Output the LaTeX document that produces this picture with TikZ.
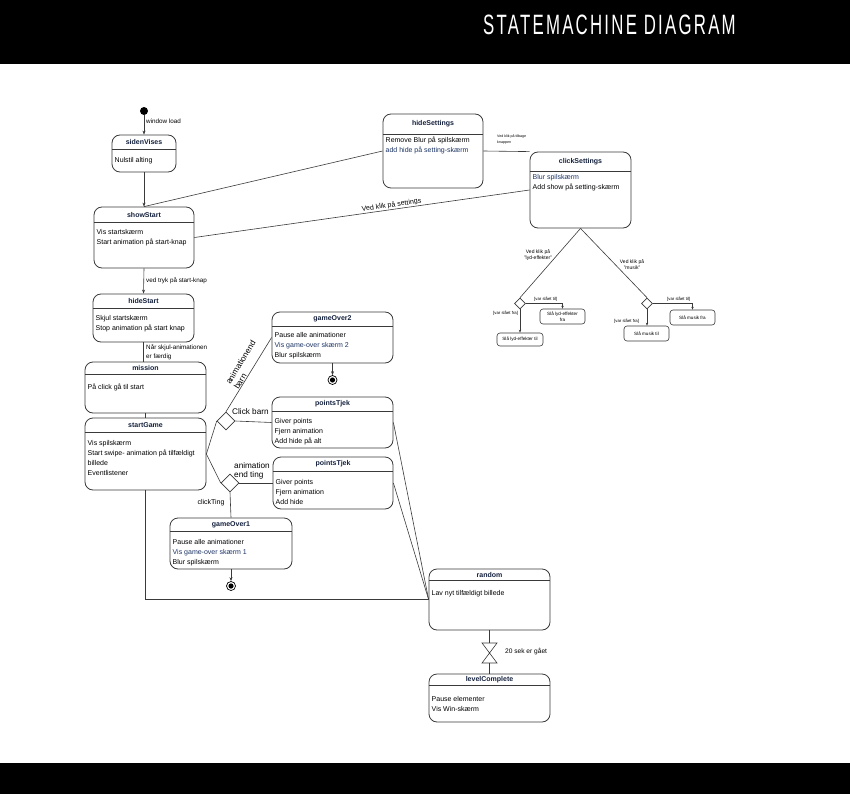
\documentclass[tikz,border=0pt]{standalone}
\usepackage{fontspec}
\setmainfont{Liberation Sans}
\newfontfamily\bannerfont[FakeStretch=0.6,LetterSpace=8]{Liberation Sans}
\usetikzlibrary{shapes.geometric,arrows.meta}
\definecolor{edgegray}{HTML}{3A3A3A}
\definecolor{titlenavy}{HTML}{14213D}
\definecolor{bodynavy}{HTML}{1C3464}

% state box: name, x, y, width, height, header height, first body line, title, body
\newcommand{\mkstate}[9]{%
  \node[stbox, minimum width=#4pt, minimum height=#5pt] (#1) at (#2+#4/2,#3+#5/2) {};
  \draw[divider] (#2,#3+#6) -- (#2+#4,#3+#6);
  \node[sttitle] (#1-title) at (#2+#4/2,#3+#6/2) {#8};
  \node[stbody] (#1-body) at (#2+2.5,#3+#7-3.7) {\rule{0pt}{6.2pt}#9};
}

\begin{document}
\begin{tikzpicture}[x=1pt,y=-1pt,
  stbox/.style={draw=edgegray,line width=0.8pt,rounded corners=8pt,fill=white,inner sep=0pt},
  divider/.style={draw=edgegray,line width=0.8pt},
  sttitle/.style={font=\fontsize{7}{8}\selectfont\bfseries,text=titlenavy,inner sep=0pt},
  stbody/.style={anchor=north west,align=left,inner sep=0pt,font=\fontsize{7}{9.8}\selectfont},
  optbox/.style={draw=edgegray,line width=0.6pt,rounded corners=3pt,fill=white,align=center,inner sep=0pt,font=\fontsize{4.6}{5.4}\selectfont},
  decision/.style={diamond,draw=edgegray,line width=0.6pt,fill=white,inner sep=0pt,minimum width=#1pt,minimum height=#1pt},
  link/.style={draw=edgegray,line width=0.6pt},
  arr/.style={link,-{Stealth[length=4pt,width=3pt]}},
  smallarr/.style={link,-{Stealth[length=3pt,width=2.4pt]}},
  lbl/.style={inner sep=0pt,font=\fontsize{6.3}{8.5}\selectfont},
  biglbl/.style={inner sep=0pt,font=\fontsize{8.2}{9.5}\selectfont},
  tinylbl/.style={inner sep=0pt,align=center,font=\fontsize{5}{6}\selectfont},
  optlbl/.style={inner sep=0pt,font=\fontsize{4.3}{5}\selectfont},
  initstate/.style={circle,fill=black,minimum size=8pt,inner sep=0pt},
  endstate/.style={circle,draw=black,line width=0.7pt,fill=white,minimum size=9pt,inner sep=0pt,
    path picture={\fill[black] (path picture bounding box.center) circle (2.6pt);}}]
\useasboundingbox (0,0) rectangle (850,794);
% banners
\fill[black] (0,0) rectangle (850,64);
\fill[black] (0,763) rectangle (850,794);
\node[anchor=west,text=white,inner sep=0pt,font={\bannerfont\fontsize{28}{30}\selectfont}] (banner) at (483,25) {STATEMACHINE DIAGRAM};

% states
\mkstate{sidenVises}{112}{135}{64}{37}{14}{25}{sidenVises}{Nulstil alting}
\mkstate{hideSettings}{383}{114}{100}{74}{20}{26}{hideSettings}{Remove Blur på spilskærm\\\textcolor{bodynavy}{add hide på setting-skærm}}
\mkstate{showStart}{94}{207}{100}{61}{15}{25}{showStart}{Vis startskærm\\Start animation på start-knap}
\mkstate{clickSettings}{530}{152}{101}{76}{19}{25}{clickSettings}{\textcolor{bodynavy}{Blur spilskærm}\\Add show på setting-skærm}
\mkstate{hideStart}{93}{294}{101}{48}{14}{24}{hideStart}{Skjul startskærm\\Stop animation på start knap}
\mkstate{mission}{85}{362}{121}{51}{12}{25}{mission}{På click gå til start}
\mkstate{startGame}{85}{418}{121}{72}{14}{25}{startGame}{Vis spilskærm\\Start swipe- animation på tilfældigt\\billede\\Eventlistener}
\mkstate{gameOver2}{272}{312}{121}{51}{14}{23}{gameOver2}{Pause alle animationer\\\textcolor{bodynavy}{Vis game-over skærm 2}\\Blur spilskærm}
\mkstate{pointsA}{272}{397}{121}{51}{14}{24}{pointsTjek}{Giver points\\Fjern animation\\Add hide på alt}
\mkstate{pointsB}{273}{457}{120}{52}{14}{25}{pointsTjek}{Giver points\\Fjern animation\\Add hide}
\mkstate{gameOver1}{170}{518}{122}{51}{13}{24}{gameOver1}{Pause alle animationer\\\textcolor{bodynavy}{Vis game-over skærm 1}\\Blur spilskærm}
\mkstate{random}{429}{569}{121}{61}{11}{24}{random}{Lav nyt tilfældigt billede}
\mkstate{levelComplete}{429}{674}{121}{48}{11}{25}{levelComplete}{Pause elementer\\Vis Win-skærm}

% start
\node[initstate] (init) at (144,111) {};
\draw[arr] (init) -- (sidenVises.north);
\node[lbl,anchor=west] (lblWindow) at (146,121) {window load};
\draw[arr] (sidenVises.south) -- (showStart.north);
\draw[link] (hideSettings.west) -- (showStart.north);
\draw[link] (showStart.east) -- node[sloped,above,pos=0.59,inner sep=0.6pt,font=\fontsize{7}{8}\selectfont] (lblSettings) {Ved klik på settings} (clickSettings.west);
\draw[link] (hideSettings.east) -- (clickSettings.north west);
\node[inner sep=0pt,anchor=north west,align=left,font=\fontsize{3.6}{5.6}\selectfont] (lblBack) at (497,134.5) {Ved klik på tilbage\\knappen};

% settings choices
\node[decision=11] (lydChoice) at (520,303.5) {};
\node[decision=11] (musikChoice) at (647,303.5) {};
\draw[link] (clickSettings.south) -- (lydChoice.north);
\draw[link] (clickSettings.south) -- (musikChoice.north);
\node[tinylbl] (lblLyd) at (538,255) {Ved klik på\\"lyd-effekter"};
\node[tinylbl] (lblMusik) at (632,265) {Ved klik på\\"musik"};
\node[optbox,minimum width=45pt,minimum height=15pt] (lydFra) at (562.5,316.5) {Slå lyd-effekter\\fra};
\node[optbox,minimum width=46pt,minimum height=13pt] (lydTil) at (520,339.5) {Slå lyd-effekter til};
\node[optbox,minimum width=45pt,minimum height=15pt] (musikFra) at (692.5,317.5) {Slå musik fra};
\node[optbox,minimum width=45pt,minimum height=15pt] (musikTil) at (646.5,333.5) {Slå musik til};
\draw[smallarr] (lydChoice.east) -| (lydFra.north);
\draw[smallarr] (lydChoice.south) -- (lydTil.north);
\draw[smallarr] (musikChoice.east) -| (musikFra.north);
\draw[smallarr] (musikChoice.south) -- (musikChoice.south |- musikTil.north);
\node[optlbl,anchor=base west] (lblLydTil) at (534,300) {[var slået til]};
\node[optlbl,anchor=base west] (lblLydFra) at (493,314) {[var slået fra]};
\node[optlbl,anchor=base west] (lblMusikTil) at (667,300) {[var slået til]};
\node[optlbl,anchor=base west] (lblMusikFra) at (614,322) {[var slået fra]};

% main flow
\draw[arr] (showStart.south) -- (hideStart.north);
\node[lbl,anchor=west] (lblTryk) at (146,281) {ved tryk på start-knap};
\draw[link] (hideStart.south) -- (hideStart.south |- mission.north);
\node[lbl,anchor=north west,align=left] (lblSkjul) at (146,344.5) {Når skjul-animationen\\er færdig};
\draw[link] (mission.south) -- (startGame.north);

% game choices
\node[decision=18] (barnChoice) at (226,421) {};
\node[decision=18] (tingChoice) at (230,483) {};
\draw[link] (startGame.east) -- (barnChoice.west);
\draw[link] (startGame.east) -- (tingChoice.west);
\draw[link] (barnChoice.east) -- (pointsA.west);
\draw[link] (barnChoice.north) -- node[biglbl,sloped,above,pos=0.57,align=left,inner sep=0.5pt] (lblAnimBarn) {animationend\\barn} (gameOver2.west);
\node[biglbl,anchor=west] (lblClickBarn) at (232,412) {Click barn};
\draw[link] (tingChoice.east) -- (pointsB.west);
\node[biglbl,anchor=north west,align=left] (lblAnimTing) at (234,462) {animation\\end ting};
\draw[link] (tingChoice.south) -- (gameOver1.north);
\node[lbl,font=\fontsize{7}{8}\selectfont] (lblClickTing) at (211,503) {clickTing};
\node[endstate] (gameOver2End) at (332.5,380) {};
\draw[arr] (gameOver2.south) -- (gameOver2End.north);
\node[endstate] (gameOver1End) at (231,586) {};
\draw[arr] (gameOver1.south) -- (gameOver1End.north);

% random and level
\draw[link] (pointsA.east) -- (random.west);
\draw[link] (pointsB.east) -- (random.west);
\draw[link] (startGame.south) |- (random.west);
\coordinate (timerTop) at (489.5,643);
\coordinate (timerBot) at (489.5,663);
\draw[link] (random.south) -- (timerTop);
\draw[link] (timerTop) ++(-7.5,0) -- ++(15,0) -- ++(-15,20) -- ++(15,0) -- cycle;
\draw[link] (timerBot) -- (levelComplete.north);
\node[lbl,anchor=west,font=\fontsize{6.6}{8}\selectfont] (lblTimer) at (505,652) {20 sek er gået};
\end{tikzpicture}
\end{document}
